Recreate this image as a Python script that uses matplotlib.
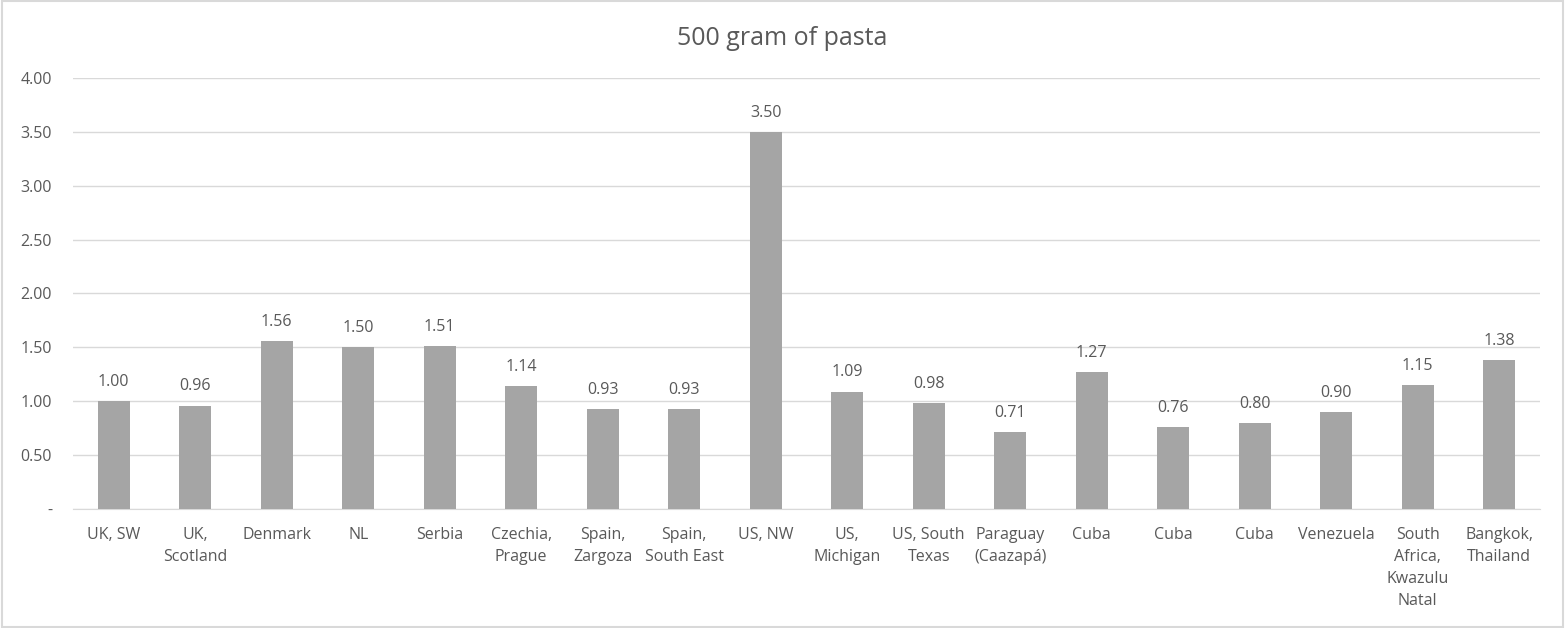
import numpy as np
import matplotlib.pyplot as plt

# Price of 500 g of pasta per location
places = ["UK, SW", "UK,\nScotland", "Denmark", "NL", "Serbia", "Czechia,\nPrague",
          "Spain,\nZargoza", "Spain,\nSouth East", "US, NW", "US,\nMichigan",
          "US, South\nTexas", "Paraguay\n(Caazapá)", "Cuba", "Cuba", "Cuba",
          "Venezuela", "South\nAfrica,\nKwazulu\nNatal", "Bangkok,\nThailand"]
prices = [1.00, 0.96, 1.56, 1.50, 1.51, 1.14, 0.93, 0.93, 3.50, 1.09,
          0.98, 0.71, 1.27, 0.76, 0.80, 0.90, 1.15, 1.38]
yticks = [0, 0.5, 1.0, 1.5, 2.0, 2.5, 3.0, 3.5, 4.0]

plt.rcParams['font.family'] = ['Open Sans', 'DejaVu Sans']
txt = '#595959'
fs = 11.5

fig = plt.figure(figsize=(15.65, 6.28), dpi=100)
ax = fig.add_axes([0.0466, 0.1895, 0.9374, 0.6863])

x = np.arange(len(places))
ax.bar(x, prices, width=0.39, color='#A5A5A5', zorder=3)
for xi, v in zip(x, prices):
    ax.annotate(f"{v:.2f}", (xi, v), xytext=(0, 8), textcoords='offset points',
                ha='center', va='bottom', fontsize=fs, color=txt)

ax.set_xlim(-0.5, len(places) - 0.5)
ax.set_ylim(0, 4.0)
ax.set_yticks(yticks)
ax.set_yticklabels(['-' if t == 0 else f"{t:.2f}" for t in yticks])
ax.set_xticks(x)
ax.set_xticklabels(places, va='top', linespacing=1.5)
ax.tick_params(axis='both', length=0, labelsize=fs, labelcolor=txt)
ax.tick_params(axis='x', pad=13)
ax.tick_params(axis='y', pad=15)
ax.grid(axis='y', color='#D9D9D9', linewidth=1, zorder=0)
for s in ['top', 'right', 'left']:
    ax.spines[s].set_visible(False)
ax.spines['bottom'].set_color('#D9D9D9')

fig.text(0.5, 0.938, "500 gram of pasta", ha='center', va='center', fontsize=18, color=txt)

# light border around the chart
fig.patches.append(plt.Rectangle((0.001, 0.002), 0.998, 0.996, transform=fig.transFigure,
                                 fill=False, edgecolor='#D9D9D9', linewidth=1.5))

fig.savefig('out.png', dpi=100)
